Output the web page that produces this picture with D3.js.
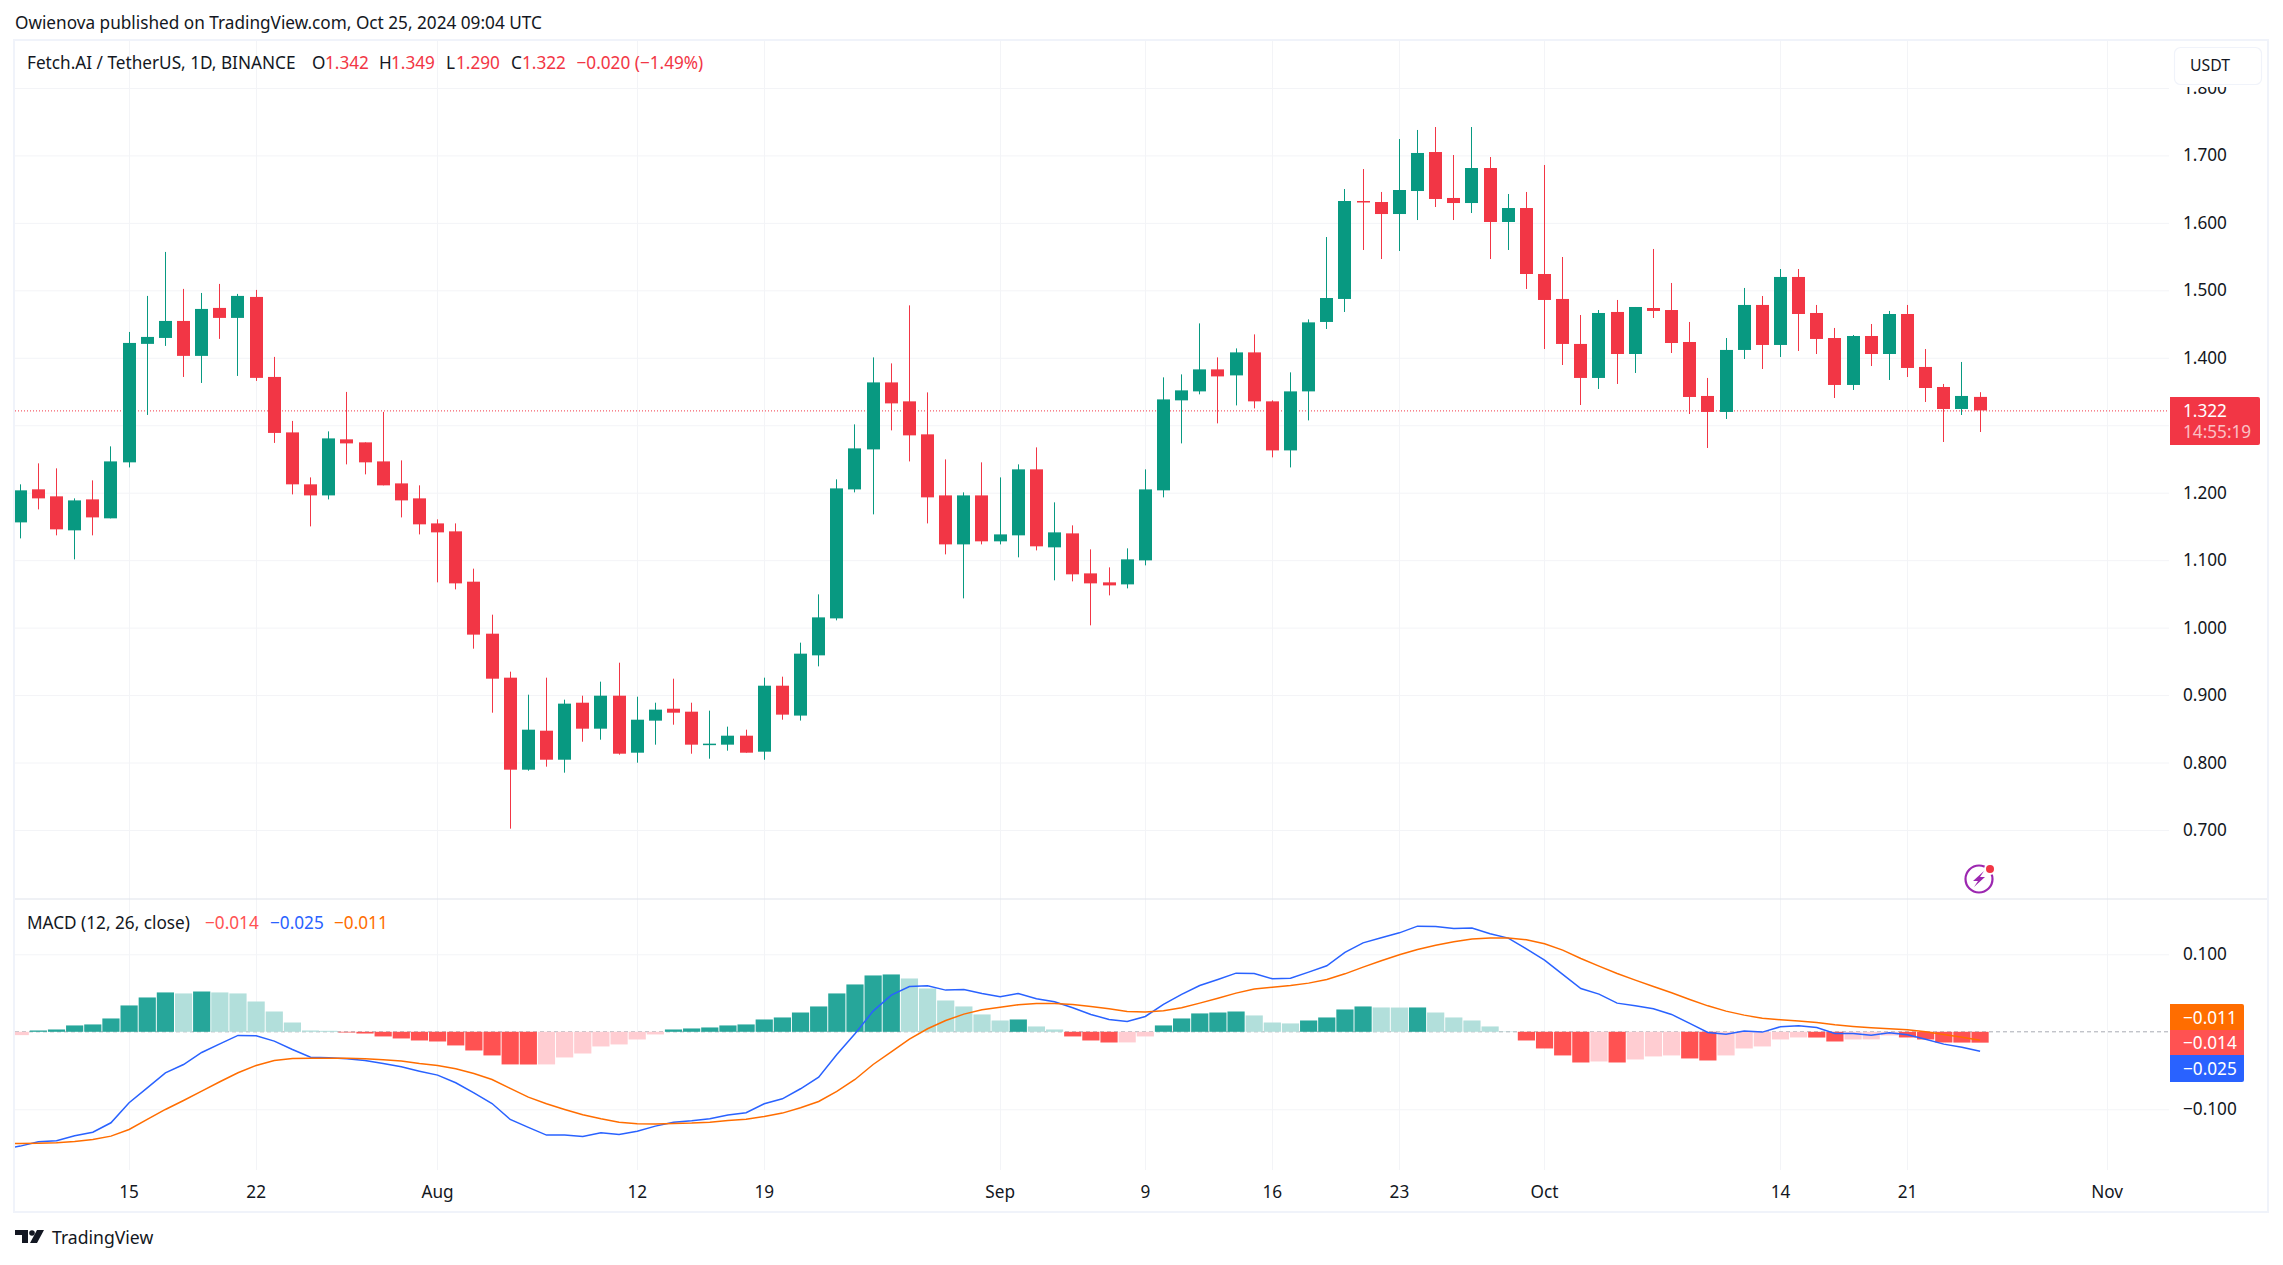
<!DOCTYPE html>
<html><head><meta charset="utf-8">
<script src="https://cdn.jsdelivr.net/npm/d3@7"></script>
<style>
html,body{margin:0;padding:0;background:#fff;overflow:hidden}
svg{display:block}
text{font-family:"Noto Sans",sans-serif;fill:#131722}
</style></head><body><svg id="c" width="2283" height="1265"></svg>
<script>
const startDate = new Date(Date.UTC(2024,6,9));
const opens = [1.156,1.205,1.1946,1.1442,1.1901,1.162,1.245,1.4206,1.4294,1.4546,
 1.4028,1.4739,1.4591,1.4902,1.3716,1.2894,1.2124,1.196,1.2791,1.2746,
 1.2464,1.2138,1.1916,1.1545,1.1427,1.0681,.991,.9258,.7894,.8472,
 .8042,.8887,.8502,.8991,.8146,.8621,.8798,.8754,.8265,.8265,
 .8398,.8161,.9139,.8696,.9589,1.0137,1.2049,1.2642,1.3635,1.3354,
 1.2865,1.196,1.1234,1.196,1.1279,1.1368,1.2346,1.119,1.1397,1.0804,
 1.0671,1.0641,1.0997,1.2035,1.3369,1.3502,1.3828,1.3739,1.408,1.3354,
 1.2627,1.3502,1.4531,1.4872,1.6324,1.6309,1.6131,1.6472,1.705,1.6369,
 1.6294,1.6813,1.6013,1.622,1.5242,1.4872,1.4205,1.3701,1.4679,1.4056,
 1.4738,1.4708,1.4234,1.3434,1.3197,1.4116,1.4783,1.419,1.5198,1.4664,
 1.4293,1.3597,1.4323,1.4056,1.4649,1.3864,1.3567,1.3241,1.342];
const closes = [1.2035,1.1916,1.1457,1.1886,1.1634,1.2464,1.422,1.4309,1.4546,1.4028,
 1.4724,1.4591,1.4917,1.3702,1.2886,1.2124,1.196,1.2805,1.2731,1.245,
 1.2109,1.1886,1.1531,1.1412,1.0656,.9896,.9243,.7894,.8487,.8042,
 .8873,.8502,.8991,.8131,.8635,.8784,.8739,.8265,.828,.8398,
 .8146,.9139,.871,.9614,1.0152,1.2064,1.2657,1.3635,1.3324,1.285,
 1.1931,1.1234,1.196,1.1279,1.1382,1.2346,1.1205,1.1412,1.079,1.0656,
 1.0626,1.1012,1.2049,1.3383,1.3517,1.3828,1.3724,1.408,1.3354,1.2627,
 1.3502,1.4525,1.4886,1.6324,1.6309,1.6131,1.6487,1.7036,1.6354,1.6294,
 1.6813,1.6013,1.622,1.5242,1.4857,1.4205,1.3701,1.4664,1.4056,1.4753,
 1.4694,1.4219,1.3419,1.3197,1.4116,1.4783,1.419,1.5198,1.4649,1.4279,
 1.3597,1.4323,1.4056,1.4649,1.3849,1.3552,1.3241,1.3434,1.322];
const highs = [1.2124,1.2435,1.2361,1.1916,1.2183,1.2687,1.4383,1.4917,1.5569,1.5021,
 1.4961,1.5095,1.4947,1.5006,1.4013,1.3064,1.2227,1.2909,1.3494,1.2746,
 1.3198,1.2479,1.2109,1.1605,1.1545,1.0874,1.0192,.9347,.9006,.9258,
 .8932,.8991,.9199,.948,.8976,.8887,.9243,.8887,.8769,.8532,
 .8487,.9258,.9273,.9777,1.0493,1.2198,1.3013,1.4006,1.3917,1.4777,
 1.3487,1.2494,1.2005,1.245,1.2227,1.242,1.2672,1.1857,1.1516,1.116,
 1.0893,1.1175,1.2346,1.371,1.3754,1.451,1.4006,1.4139,1.4347,1.3369,
 1.3784,1.4569,1.579,1.6502,1.6798,1.6458,1.7243,1.7377,1.7421,1.7006,
 1.7421,1.6976,1.6428,1.6458,1.6858,1.5494,1.4634,1.4708,1.4857,1.4753,
 1.5613,1.5109,1.4531,1.3701,1.4293,1.5035,1.4916,1.5316,1.5316,1.4783,
 1.4442,1.4338,1.4501,1.4694,1.4783,1.413,1.3612,1.3938,1.349];
const lows = [1.1323,1.1753,1.1368,1.1012,1.1368,1.162,1.2375,1.3153,1.4176,1.3716,
 1.3627,1.428,1.3731,1.3657,1.2738,1.1975,1.1501,1.1901,1.242,1.2272,
 1.2109,1.1634,1.1382,1.0671,1.0567,.9688,.8739,.702,.7879,.7939,
 .785,.8309,.8339,.8117,.7998,.8265,.8561,.8131,.8057,.8176,
 .8146,.8042,.8635,.8622,.9426,1.0108,1.2005,1.1679,1.2924,1.2464,
 1.1545,1.1086,1.0434,1.1234,1.1234,1.1042,1.1145,1.0701,1.0686,1.0034,
 1.0478,1.0582,1.0923,1.1931,1.2731,1.3458,1.3028,1.3294,1.325,1.2524,
 1.2375,1.3072,1.4427,1.4679,1.5598,1.5464,1.5583,1.6042,1.6235,1.6042,
 1.6146,1.5464,1.5598,1.502,1.413,1.3893,1.33,1.3538,1.3612,1.3775,
 1.459,1.4071,1.3167,1.2663,1.3093,1.3982,1.3834,1.4012,1.4101,1.4056,
 1.3404,1.3523,1.3878,1.3671,1.3715,1.3345,1.2752,1.3152,1.29];
const histogram = [-.0043,.0017,.003,.0082,.0095,.0172,.034,.0443,.0508,.0495,
 .052,.0508,.0495,.0391,.0262,.012,.0017,.0013,-.0009,-.0022,
 -.006,-.0086,-.0112,-.0125,-.0176,-.0241,-.0305,-.0421,-.0422,-.0421,
 -.0331,-.028,-.0189,-.0163,-.0099,-.0034,.003,.0043,.0056,.0082,
 .0095,.0159,.0185,.0249,.0327,.0495,.0611,.0727,.074,.0688,
 .0559,.0404,.0327,.0224,.0146,.0159,.0069,.003,-.006,-.0112,
 -.0138,-.0137,-.006,.0082,.0172,.0237,.0249,.0262,.0211,.012,
 .0108,.0146,.0185,.0288,.0327,.0314,.0313,.0314,.0249,.0185,
 .0146,.0069,.0004,-.0112,-.0215,-.0305,-.0396,-.0383,-.0396,-.0357,
 -.0318,-.0305,-.0344,-.037,-.0305,-.0215,-.0189,-.0099,-.0073,-.0074,
 -.0125,-.0099,-.0098,-.0047,-.0073,-.0099,-.0138,-.0139,-.014];
// the first value of each line belongs to Jul 8, just left of the pane edge
const macdLine = [-.1515,-.1475,-.1419,-.1406,-.1342,-.1295,-.1174,-.0916,-.0723,-.0529,-.0422,
 -.0267,-.0155,-.0047,-.0052,-.012,-.0228,-.0327,-.0335,-.0348,-.037,
 -.0409,-.0452,-.0508,-.0559,-.0658,-.0787,-.0925,-.1131,-.1234,-.1333,
 -.1333,-.1351,-.1303,-.1325,-.1282,-.1217,-.1166,-.1148,-.1123,-.1075,
 -.1045,-.0929,-.0865,-.0735,-.0585,-.0292,-.0026,.0267,.0473,.0585,
 .0594,.0538,.0546,.0495,.0452,.0495,.0426,.0387,.031,.0224,
 .0159,.0133,.0198,.0353,.0482,.0598,.0675,.0757,.0753,.0684,
 .0692,.077,.0852,.1024,.1148,.1213,.1277,.1363,.1359,.1333,
 .1338,.1265,.1209,.1071,.0925,.074,.0559,.0486,.037,.0335,
 .0297,.0224,.0108,-.0009,-.003,.0009,-.0004,.0065,.0077,.0056,
 -.0022,-.0022,-.0043,-.0013,-.0039,-.0095,-.0159,-.0198,-.025];
const signalLine = [-.1443,-.1441,-.1437,-.1432,-.1415,-.1389,-.1346,-.126,-.1131,-.1002,-.0886,
 -.0766,-.0645,-.0529,-.0434,-.037,-.0344,-.034,-.034,-.034,-.0348,
 -.0361,-.0378,-.0409,-.0434,-.0477,-.0538,-.0615,-.0731,-.0843,-.0929,
 -.1002,-.1071,-.1123,-.1166,-.1187,-.1191,-.1183,-.1178,-.1166,-.1144,
 -.1127,-.1092,-.1049,-.0981,-.0899,-.077,-.0615,-.0422,-.0258,-.0095,
 .0039,.0146,.0228,.0284,.0318,.0348,.0366,.0366,.0353,.0327,
 .0297,.0262,.0254,.0271,.031,.037,.0434,.0499,.0551,.0576,
 .0598,.0628,.0675,.0748,.0834,.0916,.0994,.1062,.1118,.1161,
 .1196,.1209,.1209,.1187,.1135,.1054,.0946,.0847,.0753,.0667,
 .0585,.0503,.0417,.0335,.0267,.0215,.0176,.0155,.0138,.012,
 .009,.0069,.0052,.0039,.0026,0,-.0034,-.0069,-.011];
const priceTicks = [0.7,0.8,0.9,1.0,1.1,1.2,1.3,1.4,1.5,1.6,1.7,1.8];
const macdTicks = [0.1,-0.1];
const timeTicks = [[2024,6,15,"15"],[2024,6,22,"22"],[2024,7,1,"Aug"],[2024,7,12,"12"],[2024,7,19,"19"],[2024,8,1,"Sep"],[2024,8,9,"9"],[2024,8,16,"16"],[2024,8,23,"23"],[2024,9,1,"Oct"],[2024,9,14,"14"],[2024,9,21,"21"],[2024,10,1,"Nov"]];

const UP="#089981", DOWN="#F23645", GRID="#f3f4f7", BORDER="#f0f3fa", SEP="#e0e3eb";
const L=15, R=2169, T=41, SPLIT=899, B=1170;
const svg=d3.select("#c");
const dates=d3.range(opens.length).map(i=>d3.utcDay.offset(startDate,i));
const tickDates=timeTicks.map(t=>new Date(Date.UTC(t[0],t[1],t[2])));
const x=d3.scaleUtc().domain([new Date(Date.UTC(2024,6,15)),new Date(Date.UTC(2024,10,1))]).range([128.6,2106.6]);
const y=d3.scaleLinear().domain([0.7,1.7]).range([830.0,155.4]);
const ym=d3.scaleLinear().domain([-0.1,0.1]).range([1109.3,954.3]);
const px=d=>Math.round(x(d));

svg.append("rect").attr("width",2283).attr("height",1265).attr("fill","#fff");
const defs=svg.append("defs");
defs.append("clipPath").attr("id","main").append("rect").attr("x",L).attr("y",T).attr("width",R-L).attr("height",SPLIT-T);
defs.append("clipPath").attr("id","sub").append("rect").attr("x",L).attr("y",SPLIT).attr("width",R-L).attr("height",B-SPLIT);

// vertical grid
const vg=svg.append("g").attr("transform",`translate(0,${B})`)
 .call(d3.axisBottom(x).tickValues(tickDates).tickSize(-(B-T)).tickFormat(""));
vg.select(".domain").remove();
vg.selectAll("line").attr("stroke",GRID).attr("transform","translate(0.5,0)").attr("x1",0).attr("x2",0);
vg.selectAll(".tick").attr("transform",d=>`translate(${px(d)},0)`);

// horizontal grids
function hgrid(scale,ticks){
 const g=svg.append("g").attr("transform",`translate(${R},0)`)
  .call(d3.axisLeft(scale).tickValues(ticks).tickSize(R-L).tickFormat(""));
 g.select(".domain").remove();
 g.selectAll("line").attr("stroke",GRID);
 return g;
}
hgrid(y,priceTicks); hgrid(ym,macdTicks);

// last price line
svg.append("line").attr("x1",L).attr("x2",R).attr("y1",y(closes[closes.length-1])+.5).attr("y2",y(closes[closes.length-1])+.5)
 .attr("stroke",DOWN).attr("stroke-dasharray","1 2");

// candles
const main=svg.append("g").attr("clip-path","url(#main)");
const cg=main.selectAll("g").data(dates).join("g").attr("fill",(d,i)=>closes[i]>=opens[i]?UP:DOWN);
cg.append("rect").attr("x",d=>px(d)).attr("width",1)
 .attr("y",(d,i)=>y(highs[i])).attr("height",(d,i)=>y(lows[i])-y(highs[i]));
cg.append("rect").attr("x",d=>px(d)-6).attr("width",13)
 .attr("y",(d,i)=>y(Math.max(opens[i],closes[i])))
 .attr("height",(d,i)=>Math.max(1.5,Math.abs(y(opens[i])-y(closes[i]))));

// pane separators & borders
svg.append("rect").attr("x",L-1).attr("y",SPLIT-.5).attr("width",R-L+101).attr("height",1).attr("fill",SEP);
svg.append("rect").attr("x",14).attr("y",40).attr("width",2254).attr("height",1172)
 .attr("fill","none").attr("stroke",BORDER).attr("stroke-width",2);

// MACD pane
const sub=svg.append("g").attr("clip-path","url(#sub)");
const zero=ym(0);
sub.append("line").attr("x1",L).attr("x2",R).attr("y1",zero).attr("y2",zero).attr("stroke","#9598a1").attr("stroke-dasharray","4 3").attr("opacity",.8);
const histColor=(v,i)=>{
 const rising=i===0||v>=histogram[i-1];
 return v>=0?(rising?"#26a69a":"#b2dfdb"):(rising?"#ffcdd2":"#ff5252");
};
sub.selectAll("rect.h").data(histogram).join("rect").attr("class","h")
 .attr("x",(v,i)=>x(dates[i])-8.1).attr("width",17.2)
 .attr("y",v=>v>=0?ym(v):zero).attr("height",v=>Math.abs(ym(v)-zero))
 .attr("fill",histColor);
const lineGen=d3.line().x((v,i)=>x(d3.utcDay.offset(startDate,i-1))+.5).y(v=>ym(v));
sub.append("path").attr("d",lineGen(macdLine)).attr("fill","none").attr("stroke","#2962FF").attr("stroke-width",1.5);
sub.append("path").attr("d",lineGen(signalLine)).attr("fill","none").attr("stroke","#FF6D00").attr("stroke-width",1.5);

// axes
const FS=17.2;
function axisText(sel){sel.attr("font-size",FS).attr("fill","#131722");}
const ay=svg.append("g").attr("transform",`translate(2183,0)`)
 .call(d3.axisRight(y).tickValues(priceTicks.filter(p=>p!==1.3)).tickSize(0).tickPadding(0).tickFormat(d3.format(".3f")));
ay.select(".domain").remove(); ay.selectAll("text").call(axisText);
const am=svg.append("g").attr("transform",`translate(2183,0)`)
 .call(d3.axisRight(ym).tickValues(macdTicks).tickSize(0).tickPadding(0).tickFormat(v=>d3.format(".3f")(v).replace("-","\u2212")));
am.select(".domain").remove(); am.selectAll("text").call(axisText);
const ax=svg.append("g").attr("transform",`translate(0,1185.6)`)
 .call(d3.axisBottom(x).tickValues(tickDates).tickSize(0).tickPadding(0).tickFormat((d,i)=>timeTicks[i][3]));
ax.select(".domain").remove(); ax.selectAll("text").call(axisText);

// USDT button
svg.append("rect").attr("x",2169).attr("y",42).attr("width",98).attr("height",45).attr("fill","#fff");
svg.append("rect").attr("x",2174.5).attr("y",47.5).attr("width",87).attr("height",37).attr("rx",6).attr("fill","#fff").attr("stroke",BORDER).attr("stroke-width",1.2);
const t=(x0,y0,s,fill,fs=FS,anchor="start")=>svg.append("text").attr("x",x0).attr("y",y0).attr("dy",".35em").attr("font-size",fs).attr("text-anchor",anchor).attr("fill",fill).style("fill",fill).text(s);
t(2190,65.5,"USDT","#131722",15.8);

// last-price label
svg.append("path").attr("d","M2170 397H2258a2 2 0 0 1 2 2V443a2 2 0 0 1 -2 2H2170Z").attr("fill",DOWN);
t(2183,410.5,"1.322","#fff");
t(2183,431.5,"14:55:19","rgba(255,255,255,.7)");

// MACD labels
svg.append("path").attr("d","M2170 1004H2242a2 2 0 0 1 2 2V1030H2170Z").attr("fill","#FF6D00");
svg.append("rect").attr("x",2170).attr("y",1030).attr("width",74).attr("height",25).attr("fill","#FF5252");
svg.append("path").attr("d","M2170 1055H2244V1080a2 2 0 0 1 -2 2H2170Z").attr("fill","#2962FF");
t(2183,1017.5,"\u22120.011","#fff");
t(2183,1042.5,"\u22120.014","#fff");
t(2183,1068.5,"\u22120.025","#fff");

// headers
t(15,22.5,"Owienova published on TradingView.com, Oct 25, 2024 09:04 UTC","#131722");
t(27,63,"Fetch.AI / TetherUS, 1D, BINANCE","#131722");
const legend=[[312,"O","#131722"],[325,"1.342",DOWN],[379,"H","#131722"],[391,"1.349",DOWN],[446,"L","#131722"],[456,"1.290",DOWN],[511,"C","#131722"],[522,"1.322",DOWN],[576.5,"\u22120.020 (\u22121.49%)",DOWN]];
legend.forEach(l=>t(l[0],63,l[1],l[2]));
t(27,922.5,"MACD (12, 26, close)","#131722");
t(205,922.5,"\u22120.014","#FF5252");
t(270,922.5,"\u22120.025","#2962FF");
t(334,922.5,"\u22120.011","#FF6D00");

// bolt icon
const ic=svg.append("g").attr("transform","translate(1979,879)");
ic.append("circle").attr("r",13.5).attr("fill","none").attr("stroke","#9c27b0").attr("stroke-width",2.2);
ic.append("path").attr("d","M5 -8L-6 2H-1L-5 8L6 -2H1Z").attr("fill","#9c27b0");
ic.append("circle").attr("cx",11).attr("cy",-10).attr("r",6).attr("fill","#fff");
ic.append("circle").attr("cx",11).attr("cy",-10).attr("r",4).attr("fill","#F23645");

// logo
const logo=svg.append("g").attr("transform","translate(15,1230)").attr("fill","#131722");
logo.append("path").attr("d","M0 0H13V13H7V5H0Z");
logo.append("circle").attr("cx",17).attr("cy",3).attr("r",2.8);
logo.append("path").attr("d","M22 0H29L22 13H15Z");
t(52,1238,"TradingView","#131722",17.6);
</script></body></html>
